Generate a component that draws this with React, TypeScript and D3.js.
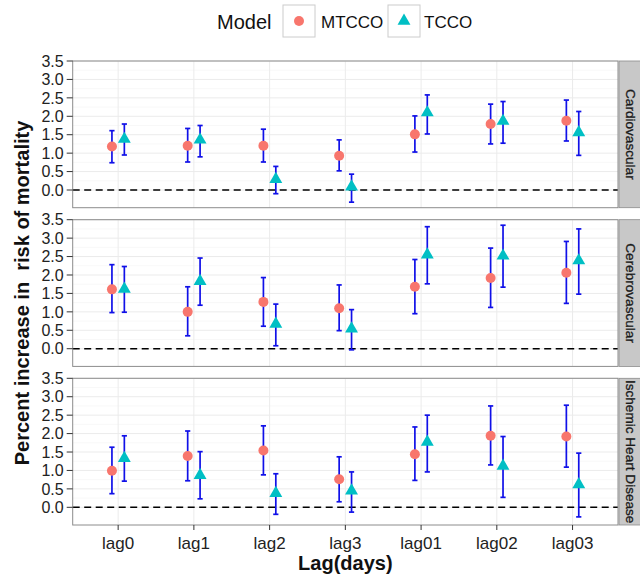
import React from 'react';
import * as d3 from 'd3';

const lags = ['lag0', 'lag1', 'lag2', 'lag3', 'lag01', 'lag02', 'lag03'];
const outcomes = ['Cardiovascular', 'Cerebrovascular', 'Ischemic Heart Disease'];
const models = ['MTCCO', 'TCCO'];
const yTicks = [0, 0.5, 1, 1.5, 2, 2.5, 3, 3.5];

// estimates, lower and upper limits, one array per outcome and model
const cardioMtccoEst = [1.18, 1.2, 1.2, 0.93, 1.51, 1.79, 1.88];
const cardioMtccoLo = [0.74, 0.76, 0.76, 0.52, 1.03, 1.25, 1.33];
const cardioMtccoHi = [1.61, 1.67, 1.65, 1.36, 2.01, 2.33, 2.44];
const cardioTccoEst = [1.38, 1.36, 0.29, 0.09, 2.1, 1.87, 1.56];
const cardioTccoLo = [0.95, 0.9, -0.1, -0.33, 1.52, 1.27, 0.94];
const cardioTccoHi = [1.79, 1.75, 0.64, 0.43, 2.58, 2.4, 2.13];

const cerebroMtccoEst = [1.61, 1.0, 1.27, 1.1, 1.68, 1.92, 2.06];
const cerebroMtccoLo = [0.98, 0.35, 0.61, 0.49, 0.95, 1.12, 1.23];
const cerebroMtccoHi = [2.28, 1.68, 1.93, 1.73, 2.42, 2.73, 2.91];
const cerebroTccoEst = [1.62, 1.83, 0.67, 0.54, 2.55, 2.52, 2.39];
const cerebroTccoLo = [0.99, 1.18, 0.08, -0.03, 1.76, 1.67, 1.48];
const cerebroTccoHi = [2.23, 2.46, 1.21, 1.06, 3.31, 3.35, 3.25];

const ihdMtccoEst = [0.99, 1.39, 1.54, 0.76, 1.44, 1.94, 1.92];
const ihdMtccoLo = [0.37, 0.72, 0.88, 0.15, 0.73, 1.15, 1.09];
const ihdMtccoHi = [1.63, 2.07, 2.21, 1.37, 2.18, 2.75, 2.77];
const ihdTccoEst = [1.33, 0.87, 0.38, 0.45, 1.77, 1.12, 0.62];
const ihdTccoLo = [0.71, 0.23, -0.19, -0.13, 0.96, 0.27, -0.26];
const ihdTccoHi = [1.94, 1.51, 0.91, 0.96, 2.5, 1.92, 1.47];

const series = [
  [
    { est: cardioMtccoEst, lo: cardioMtccoLo, hi: cardioMtccoHi },
    { est: cardioTccoEst, lo: cardioTccoLo, hi: cardioTccoHi },
  ],
  [
    { est: cerebroMtccoEst, lo: cerebroMtccoLo, hi: cerebroMtccoHi },
    { est: cerebroTccoEst, lo: cerebroTccoLo, hi: cerebroTccoHi },
  ],
  [
    { est: ihdMtccoEst, lo: ihdMtccoLo, hi: ihdMtccoHi },
    { est: ihdTccoEst, lo: ihdTccoLo, hi: ihdTccoHi },
  ],
];

const colors = ['#F8766D', '#00BFC4'];
const font = '"Liberation Sans", Arial, sans-serif';

const width = 640;
const height = 577;
const left = 72.7;
const right = 618;
const panelTops = [61, 219.7, 378.3];
const panelH = 146.7;
const dodge = 6.2;

const triangle = d3.symbol().type(d3.symbolTriangle).size(72)();

const x = d3.scalePoint<string>().domain(lags).range([left, right]).padding(0.6);

const App = () => {
  const minor = d3.range(0.25, 3.5, 0.5);
  return (
    <div style={{ position: 'absolute', left: 0, top: 0 }}>
      <svg width={width} height={height} style={{ display: 'block', fontFamily: font }}>
        <rect width={width} height={height} fill="white" />

        {/* legend */}
        <text x={217} y={29} fontSize={20} fill="#111">Model</text>
        {models.map((m, i) => {
          const bx = i === 0 ? 283 : 388;
          const tx = i === 0 ? 321 : 424;
          return (
            <g key={m}>
              <rect x={bx} y={5} width={32} height={32} fill="white" stroke="#cccccc" strokeWidth={1} />
              {i === 0 ? (
                <circle cx={bx + 16} cy={21} r={5} fill={colors[0]} />
              ) : (
                <path d={triangle} transform={`translate(${bx + 16},${21})`} fill={colors[1]} />
              )}
              <text x={tx} y={28} fontSize={17} fill="#111">{m}</text>
            </g>
          );
        })}

        {outcomes.map((name, p) => {
          const top = panelTops[p];
          const y = d3.scaleLinear().domain([-0.48, 3.5]).range([top + panelH, top]);
          return (
            <g key={name}>
              <rect x={left} y={top} width={right - left} height={panelH} fill="white" />
              {minor.map((v) => (
                <line key={'m' + v} x1={left} x2={right} y1={y(v)} y2={y(v)} stroke="#f4f4f4" strokeWidth={0.6} />
              ))}
              {yTicks.map((v) => (
                <line key={'g' + v} x1={left} x2={right} y1={y(v)} y2={y(v)} stroke="#ebebeb" strokeWidth={1} />
              ))}
              {lags.map((l) => (
                <line key={l} x1={x(l)} x2={x(l)} y1={top} y2={top + panelH} stroke="#ebebeb" strokeWidth={1} />
              ))}
              <line x1={left} x2={right} y1={y(0)} y2={y(0)} stroke="black" strokeWidth={1.6} strokeDasharray="7,4.5" />

              {series[p].map((s, k) => {
                const off = k === 0 ? -dodge : dodge;
                return (
                  <g key={k}>
                    {lags.map((l, j) => {
                      const cx = (x(l) as number) + off;
                      return (
                        <g key={l} stroke="#1010e8" strokeWidth={1.7}>
                          <line x1={cx} x2={cx} y1={y(s.lo[j])} y2={y(s.hi[j])} />
                          <line x1={cx - 2.6} x2={cx + 2.6} y1={y(s.lo[j])} y2={y(s.lo[j])} />
                          <line x1={cx - 2.6} x2={cx + 2.6} y1={y(s.hi[j])} y2={y(s.hi[j])} />
                        </g>
                      );
                    })}
                    {lags.map((l, j) => {
                      const cx = (x(l) as number) + off;
                      return k === 0 ? (
                        <circle key={'p' + l} cx={cx} cy={y(s.est[j])} r={5} fill={colors[0]} />
                      ) : (
                        <path key={'p' + l} d={triangle} transform={`translate(${cx},${y(s.est[j])})`} fill={colors[1]} />
                      );
                    })}
                  </g>
                );
              })}

              <rect x={left} y={top} width={right - left} height={panelH} fill="none" stroke="#8c8c8c" strokeWidth={1} />

              {/* strip */}
              <rect x={right + 1} y={top} width={width - right} height={panelH} fill="#c8c8c8" stroke="#8c8c8c" strokeWidth={0.8} />
              <text
                transform={`translate(${626},${top + panelH / 2}) rotate(90)`}
                textAnchor="middle"
                fontSize={13.6}
                fill="#1a1a1a"
                stroke="#1a1a1a"
                strokeWidth={0.3}
              >
                {name}
              </text>

              {/* y axis */}
              {yTicks.map((v) => (
                <g key={'t' + v}>
                  <line x1={left - 6} x2={left} y1={y(v)} y2={y(v)} stroke="#333" strokeWidth={1} />
                  <text x={left - 9} y={y(v)} dy="0.36em" textAnchor="end" fontSize={16} fill="#222">
                    {v.toFixed(1)}
                  </text>
                </g>
              ))}
            </g>
          );
        })}

        {/* x axis */}
        {lags.map((l) => (
          <g key={'x' + l}>
            <line x1={x(l)} x2={x(l)} y1={panelTops[2] + panelH} y2={panelTops[2] + panelH + 5} stroke="#333" strokeWidth={1} />
            <text x={x(l)} y={549} textAnchor="middle" fontSize={17} fill="#222">{l}</text>
          </g>
        ))}

        <text x={(left + right) / 2} y={570} textAnchor="middle" fontSize={20} fontWeight="bold" fill="#111">
          Lag(days)
        </text>
        <text
          transform={`translate(29,${panelTops[0] + (panelTops[2] + panelH - panelTops[0]) / 2}) rotate(-90)`}
          textAnchor="middle"
          fontSize={20}
          fontWeight="bold"
          fill="#111"
          style={{ whiteSpace: 'pre' }}
        >
          {'Percent increase in  risk of mortality'}
        </text>
      </svg>
    </div>
  );
};

export default App;
